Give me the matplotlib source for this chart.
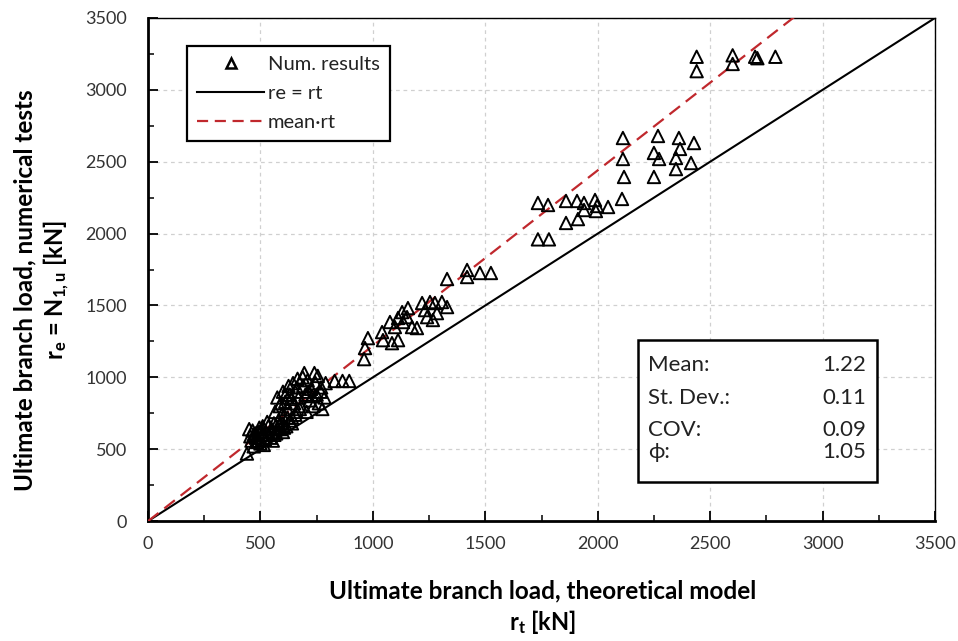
import matplotlib.pyplot as plt
from matplotlib.patches import Rectangle
from matplotlib.ticker import MultipleLocator
from matplotlib.lines import Line2D

plt.rcParams['font.family'] = ['Lato', 'DejaVu Sans']
plt.rcParams['mathtext.default'] = 'regular'

# Resultados numéricos (rt teórico, re numérico) em kN
rt_num = [
    440, 450, 460, 470, 480, 490, 495, 500, 505, 510, 520, 525, 530, 540, 550,
    555, 560, 570, 575, 580, 590, 600, 470, 485, 515, 545, 600, 615, 620,
    455, 465, 478, 492, 508, 518, 535, 548, 562, 585, 605, 630, 640, 655,
    565, 575, 585, 595, 600, 610, 620, 625, 630, 640, 645, 650, 655, 660, 665,
    670, 680, 690, 695, 700, 705, 710, 720, 725, 735, 740, 745, 750, 760, 770,
    775, 785, 790, 830, 865, 895,
    590, 612, 635, 662, 675, 688, 712, 730, 755, 768,
    961, 965, 978, 1041, 1045, 1085, 1112, 1098, 1134, 1156, 1130, 1152, 1174,
    1196, 1219, 1232, 1254, 1276, 1307, 1330, 1241, 1267, 1285, 1112, 1076,
    1330, 1419, 1419, 1476, 1525,
    1734, 1779, 1734, 1783, 1859, 1908, 1939, 1988, 1997, 1939, 1992, 2046,
    1859, 1912, 2108, 2112, 2117, 2112, 2250, 2273, 2268, 2250, 2361, 2366,
    2348, 2348, 2415, 2428,
    2440, 2440, 2600, 2600, 2700, 2710, 2790,
]
re_num = [
    470, 640, 560, 600, 580, 620, 650, 540, 600, 660, 570, 620, 690, 600, 640,
    560, 680, 610, 650, 700, 640, 680, 520, 550, 530, 580, 620, 660, 720,
    590, 630, 610, 560, 640, 600, 660, 620, 600, 670, 650, 700, 680, 740,
    760, 860, 800, 740, 900, 830, 780, 940, 880, 720, 960, 820, 900, 760, 990,
    860, 800, 940, 1030, 880, 760, 980, 840, 920, 800, 1030, 960, 880, 820, 930,
    780, 860, 960, 975, 975, 975,
    820, 880, 850, 930, 780, 1000, 900, 870, 1010, 900,
    1127, 1204, 1273, 1315, 1259, 1238, 1259, 1350, 1385, 1482, 1454, 1419,
    1350, 1343, 1517, 1468, 1524, 1517, 1524, 1489, 1419, 1399, 1447, 1413,
    1385,
    1684, 1747, 1698, 1726, 1726,
    2213, 2199, 1960, 1960, 2227, 2227, 2213, 2234, 2192, 2164, 2157, 2185,
    2074, 2101, 2241, 2519, 2394, 2665, 2561, 2519, 2679, 2394, 2665, 2589,
    2526, 2449, 2491, 2630,
    3230, 3130, 3240, 3180, 3230, 3220, 3230,
]

# Estatísticas da razão re/rt
stat_labels = ['Mean:', 'St. Dev.:', 'COV:', '\u03d5:']
stat_values = [1.22, 0.11, 0.09, 1.05]
media = stat_values[0]

eixo_max = 3500

fig = plt.figure(figsize=(9.58, 6.41), dpi=100)
ax = fig.add_axes([0.1545, 0.187, 0.8215, 0.785])

ax.set_xlim(0, eixo_max)
ax.set_ylim(0, eixo_max)

ax.grid(True, which='major', color='#d0d0d0', linestyle=(0, (3, 3)), linewidth=0.9)
ax.set_axisbelow(True)

# Linhas de referência
ax.plot([0, eixo_max], [0, eixo_max], color='black', linewidth=1.5, zorder=3)
ax.plot([0, eixo_max], [0, media * eixo_max], color='#c0282d', linewidth=1.6,
        dashes=(6, 3.3), zorder=3)

ax.scatter(rt_num, re_num, marker='^', s=80, facecolors='none',
           edgecolors='black', linewidths=1.4, zorder=4)

# Eixos e marcas
ax.xaxis.set_major_locator(MultipleLocator(500))
ax.yaxis.set_major_locator(MultipleLocator(500))
ax.xaxis.set_minor_locator(MultipleLocator(250))
ax.yaxis.set_minor_locator(MultipleLocator(250))
ax.tick_params(which='major', direction='in', length=7, width=1.3,
               labelsize=13, colors='black', labelcolor='#333333')
ax.tick_params(axis='x', which='major', pad=11)
ax.tick_params(axis='y', which='major', pad=15)
ax.tick_params(which='minor', direction='in', length=4, width=1.1)
for lado in ['left', 'bottom']:
    ax.spines[lado].set_linewidth(2.0)
for lado in ['top', 'right']:
    ax.spines[lado].set_linewidth(1.0)

# Rótulos dos eixos
fig.text(0.5665, 0.078, 'Ultimate branch load, theoretical model',
         ha='center', va='center', fontsize=17.5, fontweight='bold')
fig.text(0.5665, 0.030, r'r$_{t}$ [kN]',
         ha='center', va='center', fontsize=17, fontweight='bold')
fig.text(0.026, 0.548, 'Ultimate branch load, numerical tests',
         ha='center', va='center', rotation=90, fontsize=17.5, fontweight='bold')
fig.text(0.059, 0.548, r'r$_{e}$ = N$_{1,u}$ [kN]',
         ha='center', va='center', rotation=90, fontsize=17, fontweight='bold')

# Legenda
handles = [
    Line2D([], [], marker='^', linestyle='none', markerfacecolor='none',
           markeredgecolor='black', markeredgewidth=1.8, markersize=7),
    Line2D([], [], color='black', linewidth=1.5),
    Line2D([], [], color='#c0282d', linewidth=1.6, dashes=(5, 3)),
]
leg = ax.legend(handles, ['Num. results', 're = rt', 'mean\u00b7rt'],
                loc='upper left', bbox_to_anchor=(0.05, 0.945),
                fontsize=14.5, frameon=True, fancybox=False, framealpha=1,
                edgecolor='black', handlelength=3.3, handletextpad=0.2,
                borderpad=0.5, labelspacing=0.6, borderaxespad=0)
leg.get_frame().set_linewidth(1.6)
for t in leg.get_texts():
    t.set_color('#222222')

# Quadro de estatísticas
ax.add_patch(Rectangle((0.623, 0.0775), 0.303, 0.2825, transform=ax.transAxes,
                       facecolor='white', edgecolor='black', linewidth=1.8,
                       zorder=5))
linhas_y = [0.310, 0.2445, 0.181, 0.137]
for rot, val, yy in zip(stat_labels, stat_values, linhas_y):
    ax.text(0.635, yy, rot, transform=ax.transAxes, ha='left', va='center',
            fontsize=16, color='#222222', zorder=6)
    ax.text(0.912, yy, f'{val:.2f}', transform=ax.transAxes, ha='right',
            va='center', fontsize=16, color='#222222', zorder=6)

fig.savefig('out.png', dpi=100, facecolor='white')
